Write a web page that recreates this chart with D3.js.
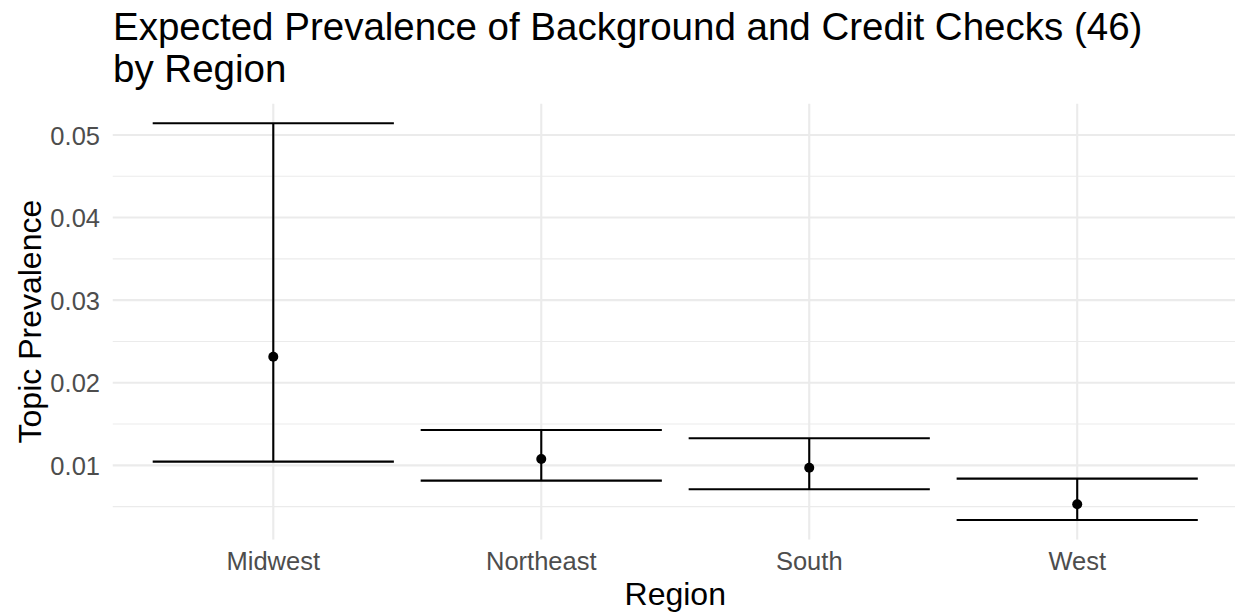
<!DOCTYPE html>
<html>
<head>
<meta charset="utf-8">
<script src="https://cdn.jsdelivr.net/npm/d3@7"></script>
<style>
  html, body { margin: 0; padding: 0; background: #fff; }
  svg { display: block; font-family: "Liberation Sans", Arial, Helvetica, sans-serif; }
</style>
</head>
<body>
<svg id="chart" width="1235" height="612"></svg>
<script>
// ---- data ----
const regions = ["Midwest", "Northeast", "South", "West"];
const estimate = [0.02316, 0.01077, 0.00972, 0.00529];
const lower    = [0.01045, 0.00815, 0.00711, 0.00339];
const upper    = [0.05142, 0.01429, 0.01328, 0.00839];
const yMajorTicks = [0.01, 0.02, 0.03, 0.04, 0.05];
const yMinorTicks = [0.005, 0.015, 0.025, 0.035, 0.045];
const titleLines = ["Expected Prevalence of Background and Credit Checks (46)", "by Region"];
const xTitle = "Region";
const yTitle = "Topic Prevalence";

// ---- layout ----
const W = 1235, H = 612;
const panel = { left: 112.5, right: 1238, top: 103.4, bottom: 539.8 };
const svg = d3.select("#chart");

const x = d3.scaleBand().domain(regions)
  .range([panel.left, panel.right]).paddingInner(0).paddingOuter(0.1);
const cx = d => x(d) + x.bandwidth() / 2;
const errW = 0.9 * x.step();

const lo = d3.min(lower), hi = d3.max(upper);
const pad = (hi - lo) * 0.05;
const y = d3.scaleLinear().domain([lo - pad, hi + pad]).range([panel.bottom, panel.top]);

// clip for panel
svg.append("defs").append("clipPath").attr("id", "clip")
  .append("rect").attr("x", panel.left).attr("y", panel.top)
  .attr("width", W - panel.left).attr("height", panel.bottom - panel.top);

const grid = svg.append("g").attr("clip-path", "url(#clip)");
grid.selectAll("line.minor").data(yMinorTicks).join("line")
  .attr("x1", panel.left).attr("x2", panel.right)
  .attr("y1", d => y(d)).attr("y2", d => y(d))
  .attr("stroke", "#EBEBEB").attr("stroke-width", 1.1);
grid.selectAll("line.major").data(yMajorTicks).join("line")
  .attr("x1", panel.left).attr("x2", panel.right)
  .attr("y1", d => y(d)).attr("y2", d => y(d))
  .attr("stroke", "#EBEBEB").attr("stroke-width", 2.1);
grid.selectAll("line.vmajor").data(regions).join("line")
  .attr("x1", d => cx(d)).attr("x2", d => cx(d))
  .attr("y1", panel.top).attr("y2", panel.bottom)
  .attr("stroke", "#EBEBEB").attr("stroke-width", 2.1);

// y axis labels
const yAxis = d3.axisLeft(y).tickValues(yMajorTicks).tickSize(0).tickPadding(0)
  .tickFormat(d3.format(".2f"));
const yg = svg.append("g").attr("transform", `translate(${100},0)`).call(yAxis);
yg.select(".domain").remove();
yg.selectAll("text").attr("font-size", 25.5).attr("fill", "#4D4D4D")
  .attr("font-family", "Liberation Sans, Arial, sans-serif").attr("dy", "0.36em");

// x axis labels
const xAxis = d3.axisBottom(x).tickSize(0).tickPadding(0);
const xg = svg.append("g").attr("transform", `translate(0,${570})`).call(xAxis);
xg.select(".domain").remove();
xg.selectAll("text").attr("font-size", 25.5).attr("fill", "#4D4D4D")
  .attr("font-family", "Liberation Sans, Arial, sans-serif").attr("dy", 0).attr("y", 0);

// error bars
const rows = regions.map((r, i) => ({ r, est: estimate[i], lo: lower[i], hi: upper[i] }));
const eb = svg.append("g").attr("stroke", "#000").attr("stroke-width", 2.1).attr("fill", "none");
eb.selectAll("line.v").data(rows).join("line")
  .attr("x1", d => cx(d.r)).attr("x2", d => cx(d.r))
  .attr("y1", d => y(d.lo)).attr("y2", d => y(d.hi));
eb.selectAll("line.t").data(rows).join("line")
  .attr("x1", d => cx(d.r) - errW / 2).attr("x2", d => cx(d.r) + errW / 2)
  .attr("y1", d => y(d.hi)).attr("y2", d => y(d.hi));
eb.selectAll("line.b").data(rows).join("line")
  .attr("x1", d => cx(d.r) - errW / 2).attr("x2", d => cx(d.r) + errW / 2)
  .attr("y1", d => y(d.lo)).attr("y2", d => y(d.lo));

svg.append("g").selectAll("circle").data(rows).join("circle")
  .attr("cx", d => cx(d.r)).attr("cy", d => y(d.est)).attr("r", 5).attr("fill", "#000");

// titles
svg.append("g").selectAll("text").data(titleLines).join("text")
  .attr("x", 113).attr("y", (d, i) => 40 + i * 42)
  .attr("font-size", 38.5).attr("fill", "#000").text(d => d);

svg.append("text").attr("x", (panel.left + panel.right) / 2).attr("y", 605)
  .attr("text-anchor", "middle").attr("font-size", 32).attr("fill", "#000").text(xTitle);

svg.append("text").attr("transform", `translate(41,${(panel.top + panel.bottom) / 2}) rotate(-90)`)
  .attr("text-anchor", "middle").attr("font-size", 32).attr("fill", "#000").text(yTitle);
</script>
</body>
</html>
